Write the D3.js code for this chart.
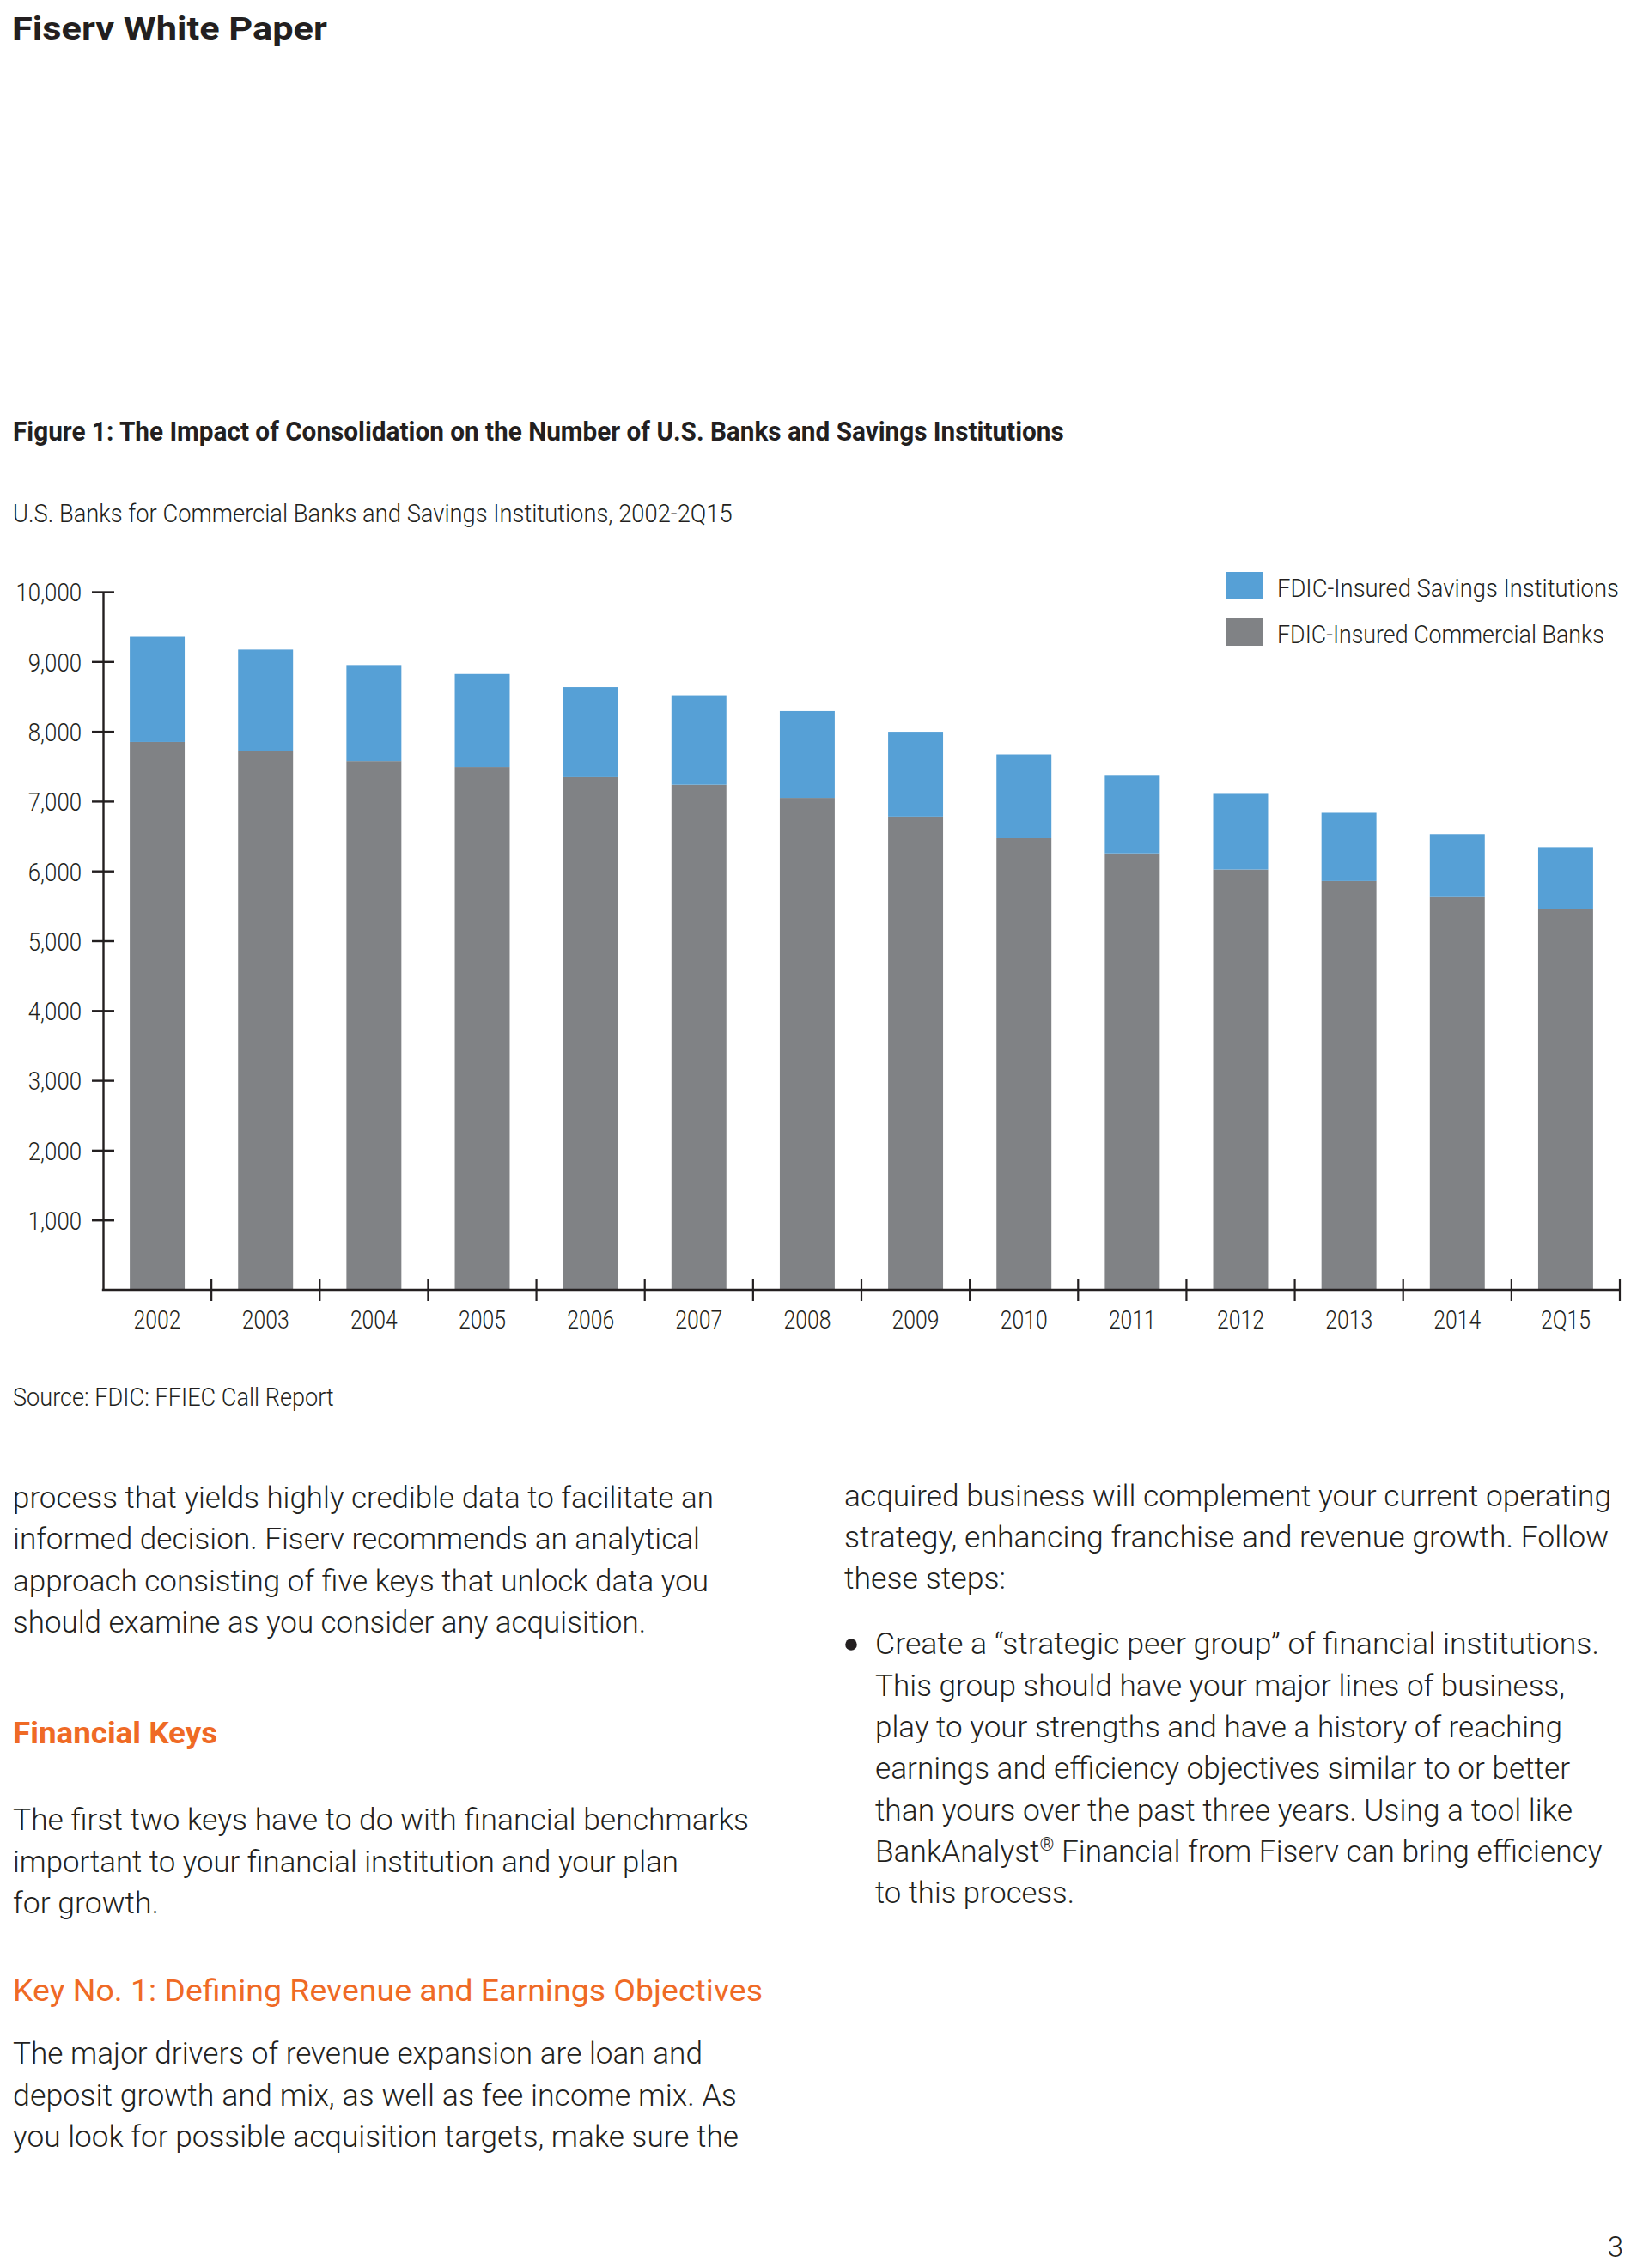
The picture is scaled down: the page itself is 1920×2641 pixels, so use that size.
<!DOCTYPE html>
<html>
<head>
<meta charset="utf-8">
<script src="https://cdn.jsdelivr.net/npm/d3@7"></script>
<style>
html,body{margin:0;padding:0;background:#ffffff;}
svg{display:block;}
</style>
</head>
<body>
<svg id="page" width="1920" height="2641"></svg>
<script>
// ---------------- DATA ----------------
const categories = ["2002","2003","2004","2005","2006","2007","2008","2009","2010","2011","2012","2013","2014","2Q15"];
const commercialBanks = [7848,7716,7575,7490,7344,7236,7047,6779,6470,6252,6020,5856,5636,5455];
const savingsInstitutions = [1506,1455,1375,1332,1290,1281,1244,1215,1199,1112,1084,977,892,887];
const yTickValues = [1000,2000,3000,4000,5000,6000,7000,8000,9000,10000];
const seriesKeys = ["commercial","savings"];
const legendLabels = ["FDIC-Insured Savings Institutions","FDIC-Insured Commercial Banks"];

const headerText = "Fiserv White Paper";
const figureTitle = "Figure 1: The Impact of Consolidation on the Number of U.S. Banks and Savings Institutions";
const figureSubtitle = "U.S. Banks for Commercial Banks and Savings Institutions, 2002-2Q15";
const sourceText = "Source: FDIC: FFIEC Call Report";

const leftColumn = [
  "process that yields highly credible data to facilitate an",
  "informed decision. Fiserv recommends an analytical",
  "approach consisting of five keys that unlock data you",
  "should examine as you consider any acquisition.",
  "Financial Keys",
  "The first two keys have to do with financial benchmarks",
  "important to your financial institution and your plan",
  "for growth.",
  "Key No. 1: Defining Revenue and Earnings Objectives",
  "The major drivers of revenue expansion are loan and",
  "deposit growth and mix, as well as fee income mix. As",
  "you look for possible acquisition targets, make sure the"
];
const rightColumn = [
  "acquired business will complement your current operating",
  "strategy, enhancing franchise and revenue growth. Follow",
  "these steps:"
];
const bulletLines = [
  ["Create a \u201Cstrategic peer group\u201D of financial institutions."],
  ["This group should have your major lines of business,"],
  ["play to your strengths and have a history of reaching"],
  ["earnings and efficiency objectives similar to or better"],
  ["than yours over the past three years. Using a tool like"],
  ["BankAnalyst", "\u00AE", " Financial from Fiserv can bring efficiency"],
  ["to this process."]
];
const pageNumber = "3";

// ---------------- LAYOUT / STYLE ----------------
const INK = "#231f20";
const BLUE = "#56a0d6";
const GRAY = "#808285";
const ORANGE = "#ef6a25";
const chartFont = "Roboto,'Liberation Sans',Arial,sans-serif";
const bodyFont = "Roboto,'Open Sans','Liberation Sans',sans-serif";

const leftLayout = [
  [1756,816,"p"],[1804,800,"p"],[1853,810,"p"],[1901,737,"p"],
  [2030,238,"h1"],
  [2131,857,"p"],[2180,775,"p"],[2228,170,"p"],
  [2330,873,"h2"],
  [2403,803,"p"],[2452,843,"p"],[2500,845,"p"]
];
const rightLayout = [[1754,893],[1802,890],[1850,188]];
const bulletLayout = [[1926,843],[1975,803],[2023,800],[2071,809],[2120,812],[2168,847],[2216,232]];

const svg = d3.select("#page");
svg.append("rect").attr("width",1920).attr("height",2641).attr("fill","#fff");

function applyAttrs(sel, attrs){ Object.entries(attrs).forEach(([k,v])=>sel.attr(k,v)); return sel; }
function naturalWidth(attrs, str){
  const t = applyAttrs(svg.append("text"), attrs).text(str);
  const w = t.node().getComputedTextLength();
  t.remove();
  return w;
}
// condensed text: drawn at natural metrics, squeezed horizontally with a transform
function condText(parent, str, x, y, attrs, width){
  const k = width / naturalWidth(attrs, str);
  return applyAttrs(parent.append("text"), attrs)
    .attr("x",0).attr("y",0)
    .attr("transform",`translate(${x},${y}) scale(${k.toFixed(4)},1)`)
    .text(str);
}
function fitTo(sel, width){
  sel.attr("textLength", width).attr("lengthAdjust","spacingAndGlyphs");
}

// ---------------- HEADER ----------------
const boldAttrs = {"font-family":chartFont,"font-weight":700,"fill":INK};
condText(svg, headerText, 14, 46, {...boldAttrs,"font-size":37}, 367);
condText(svg, figureTitle, 15, 513, {...boldAttrs,"font-size":30.5}, 1224);
condText(svg, figureSubtitle, 15, 608,
  {"font-family":chartFont,"font-weight":300,"font-size":30,"fill":INK}, 838);

// ---------------- CHART ----------------
const x = d3.scaleBand().domain(categories).range([120,1886])
  .paddingInner(0.493).paddingOuter(0.2465);
const y = d3.scaleLinear().domain([0,10000]).range([1502,689]);

const rows = categories.map((c,i)=>({cat:c, commercial:commercialBanks[i], savings:savingsInstitutions[i]}));
const stacked = d3.stack().keys(seriesKeys)(rows);
const color = d3.scaleOrdinal().domain(seriesKeys).range([GRAY,BLUE]);

svg.append("g").attr("class","bars")
  .selectAll("g").data(stacked).join("g")
  .attr("fill",d=>color(d.key))
  .selectAll("rect").data(d=>d).join("rect")
  .attr("x",d=>x(d.data.cat))
  .attr("width",x.bandwidth())
  .attr("y",d=>y(d[1]))
  .attr("height",d=>y(d[0])-y(d[1]));

const labelAttrs = {"font-family":chartFont,"font-weight":300,"font-size":30,"fill":INK};

// Y axis
const yAxisG = svg.append("g").attr("transform","translate(120,0)")
  .call(d3.axisLeft(y).tickValues(yTickValues).tickSizeInner(13).tickSizeOuter(0)
        .tickPadding(12).tickFormat(d3.format(",")));
yAxisG.select(".domain").attr("stroke",INK).attr("stroke-width",2.4);
yAxisG.selectAll(".tick line").attr("x1",13).attr("x2",-13).attr("stroke",INK).attr("stroke-width",2.4);
const yk = 76.5 / naturalWidth(labelAttrs, "10,000");
yAxisG.selectAll(".tick text").each(function(){
  const t = d3.select(this);
  applyAttrs(t, labelAttrs);
  t.attr("x",0).attr("dy","0.36em").attr("text-anchor","end")
   .attr("transform",`translate(-25,0) scale(${yk.toFixed(4)},1)`);
});

// X axis
const xAxisG = svg.append("g").attr("transform","translate(0,1502)")
  .call(d3.axisBottom(x).tickSize(0).tickPadding(0));
xAxisG.select(".domain").remove();
const xk = 55 / naturalWidth(labelAttrs, "2002");
xAxisG.selectAll(".tick text").each(function(){
  const t = d3.select(this);
  applyAttrs(t, labelAttrs);
  t.attr("x",0).attr("y",0).attr("dy",0).attr("text-anchor","middle")
   .attr("transform",`translate(0,45) scale(${xk.toFixed(4)},1)`);
});

const half = x.step()*x.paddingInner()/2;
const boundaries = categories.slice(1).map(c=>x(c)-half).concat([x.range()[1]]);
xAxisG.append("line").attr("x1",x.range()[0]-1.2).attr("x2",x.range()[1])
  .attr("y1",0).attr("y2",0).attr("stroke",INK).attr("stroke-width",2.4);
xAxisG.selectAll("line.bound").data(boundaries).join("line").attr("class","bound")
  .attr("x1",d=>d).attr("x2",d=>d).attr("y1",-13).attr("y2",13)
  .attr("stroke",INK).attr("stroke-width",2.2);

// Legend
const legend = svg.append("g").attr("class","legend");
const legendColors = [BLUE,GRAY];
const legendWidths = [398,381];
legendLabels.forEach((lab,i)=>{
  const gy = 666 + i*54;
  legend.append("rect").attr("x",1428).attr("y",gy).attr("width",43).attr("height",32)
    .attr("fill",legendColors[i]);
  condText(legend, lab, 1487, gy+28.5, labelAttrs, legendWidths[i]);
});

// Source
condText(svg, sourceText, 15, 1637, labelAttrs, 374);

// ---------------- BODY TEXT ----------------
const bodySize = 35.5;
leftColumn.forEach((line,i)=>{
  const [by,w,kind] = leftLayout[i];
  const t = svg.append("text").attr("x",15).attr("y",by)
    .attr("font-family",bodyFont).attr("font-size",bodySize)
    .attr("fill", kind==="p" ? INK : ORANGE)
    .attr("font-weight", kind==="h1" ? 700 : (kind==="h2" ? 400 : 300))
    .text(line);
  fitTo(t,w);
});
rightColumn.forEach((line,i)=>{
  const [by,w] = rightLayout[i];
  svg.append("text").attr("x",983).attr("y",by)
    .attr("font-family",bodyFont).attr("font-size",bodySize).attr("font-weight",300)
    .attr("fill",INK).text(line).call(fitTo,w);
});
svg.append("circle").attr("cx",991).attr("cy",1915).attr("r",6.8).attr("fill",INK);
bulletLines.forEach((parts,i)=>{
  const [by,w] = bulletLayout[i];
  const t = svg.append("text").attr("x",1019).attr("y",by)
    .attr("font-family",bodyFont).attr("font-size",bodySize).attr("font-weight",300)
    .attr("fill",INK);
  if(parts.length === 1){
    t.text(parts[0]).call(fitTo,w);
  } else {
    t.append("tspan").text(parts[0]);
    t.append("tspan").attr("font-size",bodySize*0.6).attr("dy",-13).text(parts[1]);
    t.append("tspan").attr("dy",13).text(parts[2]);
    const nat = t.node().getComputedTextLength();
    t.attr("transform",`translate(1019,0) scale(${(w/nat).toFixed(4)},1) translate(-1019,0)`);
  }
});

svg.append("text").attr("x",1890).attr("y",2628).attr("text-anchor","end")
  .attr("font-family",bodyFont).attr("font-size",33).attr("font-weight",300)
  .attr("fill",INK).text(pageNumber);
</script>
</body>
</html>
